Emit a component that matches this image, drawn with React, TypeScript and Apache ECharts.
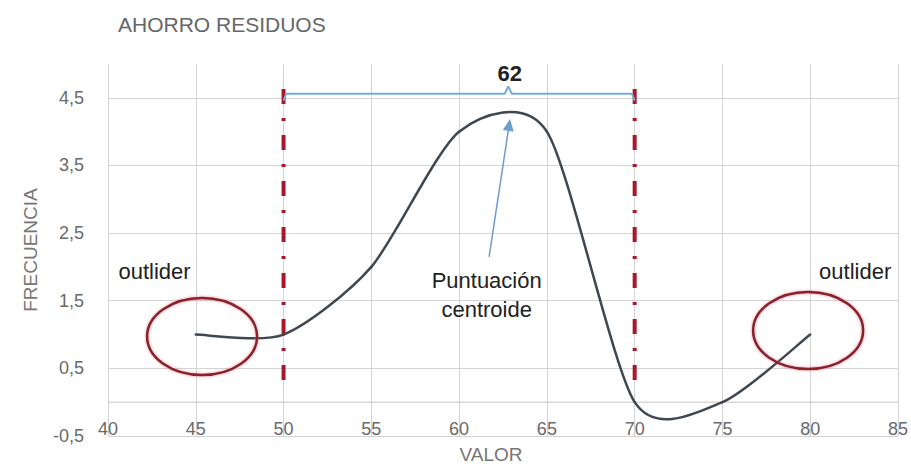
import React, { useEffect, useRef } from 'react';
import * as echarts from 'echarts';

// ---- data ----
const chartTitle = 'AHORRO RESIDUOS';
const xAxisName = 'VALOR';
const yAxisName = 'FRECUENCIA';

const valores = [45, 50, 55, 60, 65, 70, 75, 80];
const frecuencias = [1, 1, 2, 4, 4, 0, 0, 1];

const xMin = 40;
const xMax = 85;
const xStep = 5;
const yMin = -0.5;
const yMax = 5;
const yStep = 1;

// vertical cut-off lines (red dash-dot)
const cutoffX = [50, 70];
const cutoffTop = 4.63;
const cutoffBottom = 0.3;

// bracket between the cut-offs and its label
const bracketX = [50, 70];
const bracketY = 4.56;
const bracketPeakX = 62.8;
const bracketLabel = '62';
const bracketLabelPos = [62.88, 4.86];

// arrow to the centroid
const arrowTail = [61.71, 2.15];
const arrowTip = [62.85, 4.1];
const centroidText = 'Puntuación\ncentroide';
const centroidTextPos = [61.57, 1.58];

// outliers
const outlierCenters = [
  [45.36, 0.97],
  [79.88, 1.06],
];
const outlierText = 'outlider';
const outlierTextPos = [
  [42.65, 1.93],
  [82.56, 1.93],
];

const FONT = '"Liberation Sans", Arial, sans-serif';
// spreadsheet-style smoothing: control point offset = (next - prev) / 8
const SMOOTH_DIV = 8;

export default function App() {
  const ref = useRef<HTMLDivElement>(null);

  useEffect(() => {
    document.body.style.margin = '0';
    if (!ref.current) return;
    const chart = echarts.init(ref.current, null, { renderer: 'svg' });

    const curve = valores.map((v, i) => [v, frecuencias[i]]);
    const bracket = [
      [bracketX[0], bracketY - 0.1],
      [bracketX[0] + 0.15, bracketY],
      [bracketPeakX - 0.2, bracketY],
      [bracketPeakX, bracketY + 0.11],
      [bracketPeakX + 0.2, bracketY],
      [bracketX[1] - 0.15, bracketY],
      [bracketX[1], bracketY - 0.1],
    ];

    const texts: { t: string; p: number[]; size: number; bold?: boolean; lh?: number }[] = [
      { t: outlierText, p: outlierTextPos[0], size: 22 },
      { t: outlierText, p: outlierTextPos[1], size: 22 },
      { t: centroidText, p: centroidTextPos, size: 22, lh: 29 },
      { t: bracketLabel, p: bracketLabelPos, size: 22, bold: true },
    ];

    const fmt = (v: number) => String(v).replace('.', ',');

    chart.setOption({
      animation: false,
      title: {
        text: chartTitle,
        left: 113,
        top: 9,
        textStyle: { fontFamily: FONT, fontSize: 21, fontWeight: 'normal', color: '#666666' },
      },
      grid: { left: 108, right: 13, top: 64, bottom: 31, containLabel: false, outerBoundsMode: 'none' },
      xAxis: {
        type: 'value',
        min: xMin,
        max: xMax,
        interval: xStep,
        name: xAxisName,
        nameLocation: 'middle',
        nameGap: 9,
        nameTextStyle: {
          fontFamily: FONT,
          fontSize: 19,
          color: '#767676',
          verticalAlign: 'top',
          padding: [0, 24, 0, 0],
        },
        axisLine: { show: false },
        axisTick: { show: false },
        axisLabel: {
          fontFamily: FONT,
          fontSize: 18,
          color: '#6a6a6a',
          margin: -7,
          verticalAlign: 'middle',
        },
        splitLine: { show: true, lineStyle: { color: '#d4d4d4', width: 1 } },
      },
      yAxis: [
        {
          type: 'value',
          min: yMin,
          max: yMax,
          show: false,
        },
        {
          // display axis: ticks at -0.5, 0.5, ... 4.5 (shifted by +0.5)
          type: 'value',
          min: yMin + 0.5,
          max: yMax + 0.5,
          interval: yStep,
          position: 'left',
          name: yAxisName,
          nameLocation: 'middle',
          nameGap: 68,
          nameTextStyle: { fontFamily: FONT, fontSize: 19, color: '#767676' },
          axisLine: { show: false },
          axisTick: { show: false },
          axisLabel: {
            fontFamily: FONT,
            fontSize: 18,
            color: '#6a6a6a',
            margin: 24,
            showMaxLabel: false,
            formatter: (v: number) => (v - 0.5 > yMax - 0.01 ? '' : fmt(v - 0.5)),
          },
          splitLine: { show: true, showMaxLine: false, lineStyle: { color: '#d4d4d4', width: 1 } },
        },
      ],
      series: [
        {
          // horizontal axis line crossing at 0
          type: 'line',
          yAxisIndex: 0,
          data: [
            [xMin, 0],
            [xMax, 0],
          ],
          symbol: 'none',
          silent: true,
          lineStyle: { color: '#c4c4c4', width: 1 },
          z: 1,
        },
        {
          type: 'custom',
          name: 'frecuencia',
          yAxisIndex: 0,
          data: curve,
          z: 3,
          renderItem: (params: any, api: any) => {
            const i = params.dataIndex;
            const n = curve.length;
            if (i >= n - 1) return { type: 'group', children: [] };
            const P = (k: number) => {
              const kk = Math.max(0, Math.min(n - 1, k));
              return api.coord(curve[kk]);
            };
            const p0 = P(i - 1);
            const p1 = P(i);
            const p2 = P(i + 1);
            const p3 = P(i + 2);
            return {
              type: 'bezierCurve',
              shape: {
                x1: p1[0],
                y1: p1[1],
                cpx1: p1[0] + (p2[0] - p0[0]) / SMOOTH_DIV,
                cpy1: p1[1] + (p2[1] - p0[1]) / SMOOTH_DIV,
                cpx2: p2[0] - (p3[0] - p1[0]) / SMOOTH_DIV,
                cpy2: p2[1] - (p3[1] - p1[1]) / SMOOTH_DIV,
                x2: p2[0],
                y2: p2[1],
              },
              style: { fill: 'none', stroke: '#3f4850', lineWidth: 2.5, lineCap: 'round' },
            };
          },
        },
        ...cutoffX.map((x) => ({
          type: 'line',
          yAxisIndex: 0,
          data: [
            [x, cutoffTop],
            [x, cutoffBottom],
          ],
          symbol: 'none',
          lineStyle: { color: '#a8172b', width: 4, type: [15, 14, 3, 14] },
          z: 4,
        })),
        {
          type: 'line',
          yAxisIndex: 0,
          data: bracket,
          symbol: 'none',
          lineStyle: { color: '#7aaad4', width: 2 },
          z: 5,
          markLine: {
            silent: true,
            label: { show: false },
            symbol: ['none', 'triangle'],
            symbolSize: [11, 12],
            lineStyle: { color: '#6e9ccb', type: 'solid', width: 1.5 },
            data: [[{ coord: arrowTail }, { coord: arrowTip }]],
          },
        },
        {
          type: 'custom',
          yAxisIndex: 0,
          data: outlierCenters,
          z: 6,
          renderItem: (params: any, api: any) => {
            const c = api.coord([api.value(0), api.value(1)]);
            return {
              type: 'ellipse',
              shape: { cx: c[0], cy: c[1], rx: 55, ry: 38.5 },
              style: {
                fill: 'none',
                stroke: '#86202a',
                lineWidth: 2.5,
                shadowBlur: 3,
                shadowColor: 'rgba(230,90,110,0.7)',
              },
            };
          },
        },
        {
          type: 'custom',
          yAxisIndex: 0,
          data: texts.map((t) => t.p),
          z: 7,
          renderItem: (params: any, api: any) => {
            const item = texts[params.dataIndex];
            const c = api.coord([api.value(0), api.value(1)]);
            return {
              type: 'text',
              x: c[0],
              y: c[1],
              style: {
                text: item.t,
                fontFamily: FONT,
                fontSize: item.size,
                fontWeight: item.bold ? 'bold' : 'normal',
                lineHeight: item.lh || item.size,
                fill: '#222222',
                align: 'center',
                verticalAlign: 'middle',
              },
            };
          },
        },
      ],
    });

    return () => chart.dispose();
  }, []);

  return <div ref={ref} style={{ width: 911, height: 467 }} />;
}
